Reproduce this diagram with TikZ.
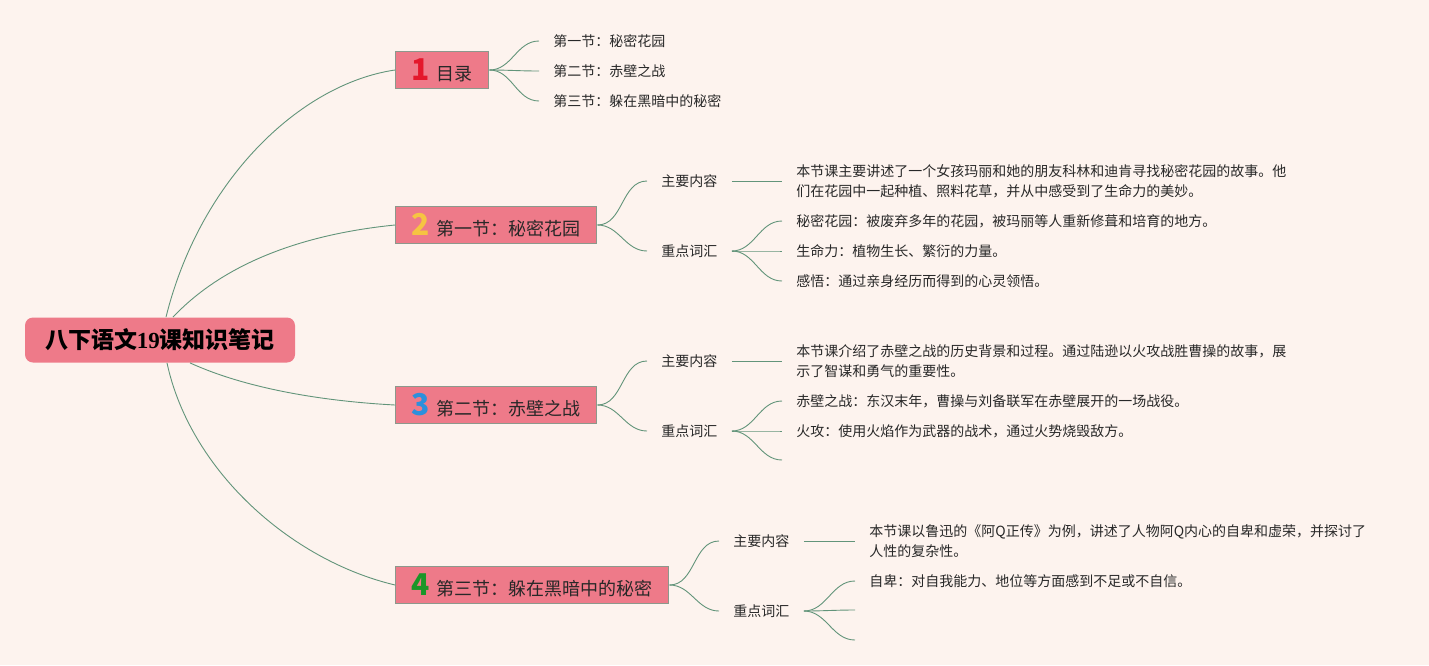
\documentclass[tikz,border=0pt]{standalone}
\usepackage{fontspec}
\setmainfont{Noto Sans CJK SC}
\newfontfamily\rootdigits{Liberation Serif}
\usepackage{tikz}

\definecolor{bgcol}{RGB}{253,243,238}
\definecolor{nodefill}{RGB}{238,122,137}
\definecolor{nodeline}{RGB}{140,152,140}
\definecolor{linkcol}{RGB}{98,148,122}
\definecolor{txtcol}{RGB}{40,40,40}
\definecolor{numred}{RGB}{228,24,44}
\definecolor{numyellow}{RGB}{246,196,66}
\definecolor{numblue}{RGB}{44,144,220}
\definecolor{numgreen}{RGB}{26,150,40}

\newcommand{\secnum}[2]{{\fontsize{15}{15}\selectfont\bfseries\color{#1}#2}\hspace{3.5pt}}

\begin{document}
\begin{tikzpicture}[x=0.5pt,y=-0.5pt]
    % Define styles
    \tikzstyle{rootbox} = [rectangle, rounded corners=4pt, fill=nodefill, minimum width=135pt, minimum height=22.5pt, text=black, font=\fontsize{11.5}{12}\selectfont\bfseries]
    \tikzstyle{secbox} = [rectangle, anchor=west, fill=nodefill, draw=nodeline, line width=0.6pt, minimum height=18pt, inner xsep=8pt, text=txtcol, font=\fontsize{9}{10}\selectfont]
    \tikzstyle{leaf} = [anchor=west, inner xsep=7pt, inner ysep=1pt, text=txtcol, align=left, font=\fontsize{7}{10}\selectfont]
    \tikzstyle{link} = [draw=linkcol, line width=0.45pt]

    % Background
    \fill[bgcol] (0,0) rectangle (1429,665);
    \useasboundingbox (0,0) rectangle (1429,665);

    % Nodes
    \node (root) [rootbox] at (160,340) {八下语文{\rootdigits\bfseries 19}课知识笔记};

    \node (b1) [secbox] at (395,70) {\secnum{numred}{1}目录};
    \node (b2) [secbox] at (395,225) {\secnum{numyellow}{2}第一节：秘密花园};
    \node (b3) [secbox] at (395,405) {\secnum{numblue}{3}第二节：赤壁之战};
    \node (b4) [secbox] at (395,585) {\secnum{numgreen}{4}第三节：躲在黑暗中的秘密};

    % Section 1
    \node (l11) [leaf] at (539,41) {第一节：秘密花园};
    \node (l12) [leaf] at (539,71) {第二节：赤壁之战};
    \node (l13) [leaf] at (539,101) {第三节：躲在黑暗中的秘密};

    % Section 2
    \node (c2) [leaf] at (647,181) {主要内容};
    \node (k2) [leaf] at (647,251) {重点词汇};
    \node (c2t) [leaf] at (782,181) {本节课主要讲述了一个女孩玛丽和她的朋友科林和迪肯寻找秘密花园的故事。他\\们在花园中一起种植、照料花草，并从中感受到了生命力的美妙。};
    \node (k21) [leaf] at (782,221) {秘密花园：被废弃多年的花园，被玛丽等人重新修葺和培育的地方。};
    \node (k22) [leaf] at (782,251) {生命力：植物生长、繁衍的力量。};
    \node (k23) [leaf] at (782,281) {感悟：通过亲身经历而得到的心灵领悟。};

    % Section 3
    \node (c3) [leaf] at (647,361) {主要内容};
    \node (k3) [leaf] at (647,431) {重点词汇};
    \node (c3t) [leaf] at (782,361) {本节课介绍了赤壁之战的历史背景和过程。通过陆逊以火攻战胜曹操的故事，展\\示了智谋和勇气的重要性。};
    \node (k31) [leaf] at (782,401) {赤壁之战：东汉末年，曹操与刘备联军在赤壁展开的一场战役。};
    \node (k32) [leaf] at (782,431) {火攻：使用火焰作为武器的战术，通过火势烧毁敌方。};
    \coordinate (k33) at (782,460);

    % Section 4
    \node (c4) [leaf] at (719,541) {主要内容};
    \node (k4) [leaf] at (719,611) {重点词汇};
    \node (c4t) [leaf] at (855,541) {本节课以鲁迅的《阿Q正传》为例，讲述了人物阿Q内心的自卑和虚荣，并探讨了\\人性的复杂性。};
    \node (k41) [leaf] at (855,581) {自卑：对自我能力、地位等方面感到不足或不自信。};
    \coordinate (k42) at (855,610);
    \coordinate (k43) at (855,640);

    % Connectors from root
    \draw [link] ([xshift=3pt]root.north) .. controls (200,180) and (300,84) .. (b1.west);
    \draw [link] ([xshift=6.5pt]root.north) .. controls (225,262) and (305,234) .. (b2.west);
    \draw [link] ([xshift=15pt]root.south) .. controls (245,388) and (320,401) .. (b3.west);
    \draw [link] ([xshift=3.5pt]root.south) .. controls (190,470) and (290,560) .. (b4.west);

    % Connectors to leaves
    \foreach \a/\b in {b1/l11, b1/l12, b1/l13, b2/c2, b2/k2, b3/c3, b3/k3, b4/c4, b4/k4,
                       k2/k21, k2/k22, k2/k23, k3/k31, k3/k32, k4/k41}
        \draw [link] (\a.east) to[out=0, in=180] (\b.west);
    \draw [link] (k3.east) to[out=0, in=180] (k33);
    \draw [link] (k4.east) to[out=0, in=180] (k42);
    \draw [link] (k4.east) to[out=0, in=180] (k43);
    \draw [link] (c2.east) -- (c2t.west);
    \draw [link] (c3.east) -- (c3t.west);
    \draw [link] (c4.east) -- (c4t.west);
\end{tikzpicture}
\end{document}
